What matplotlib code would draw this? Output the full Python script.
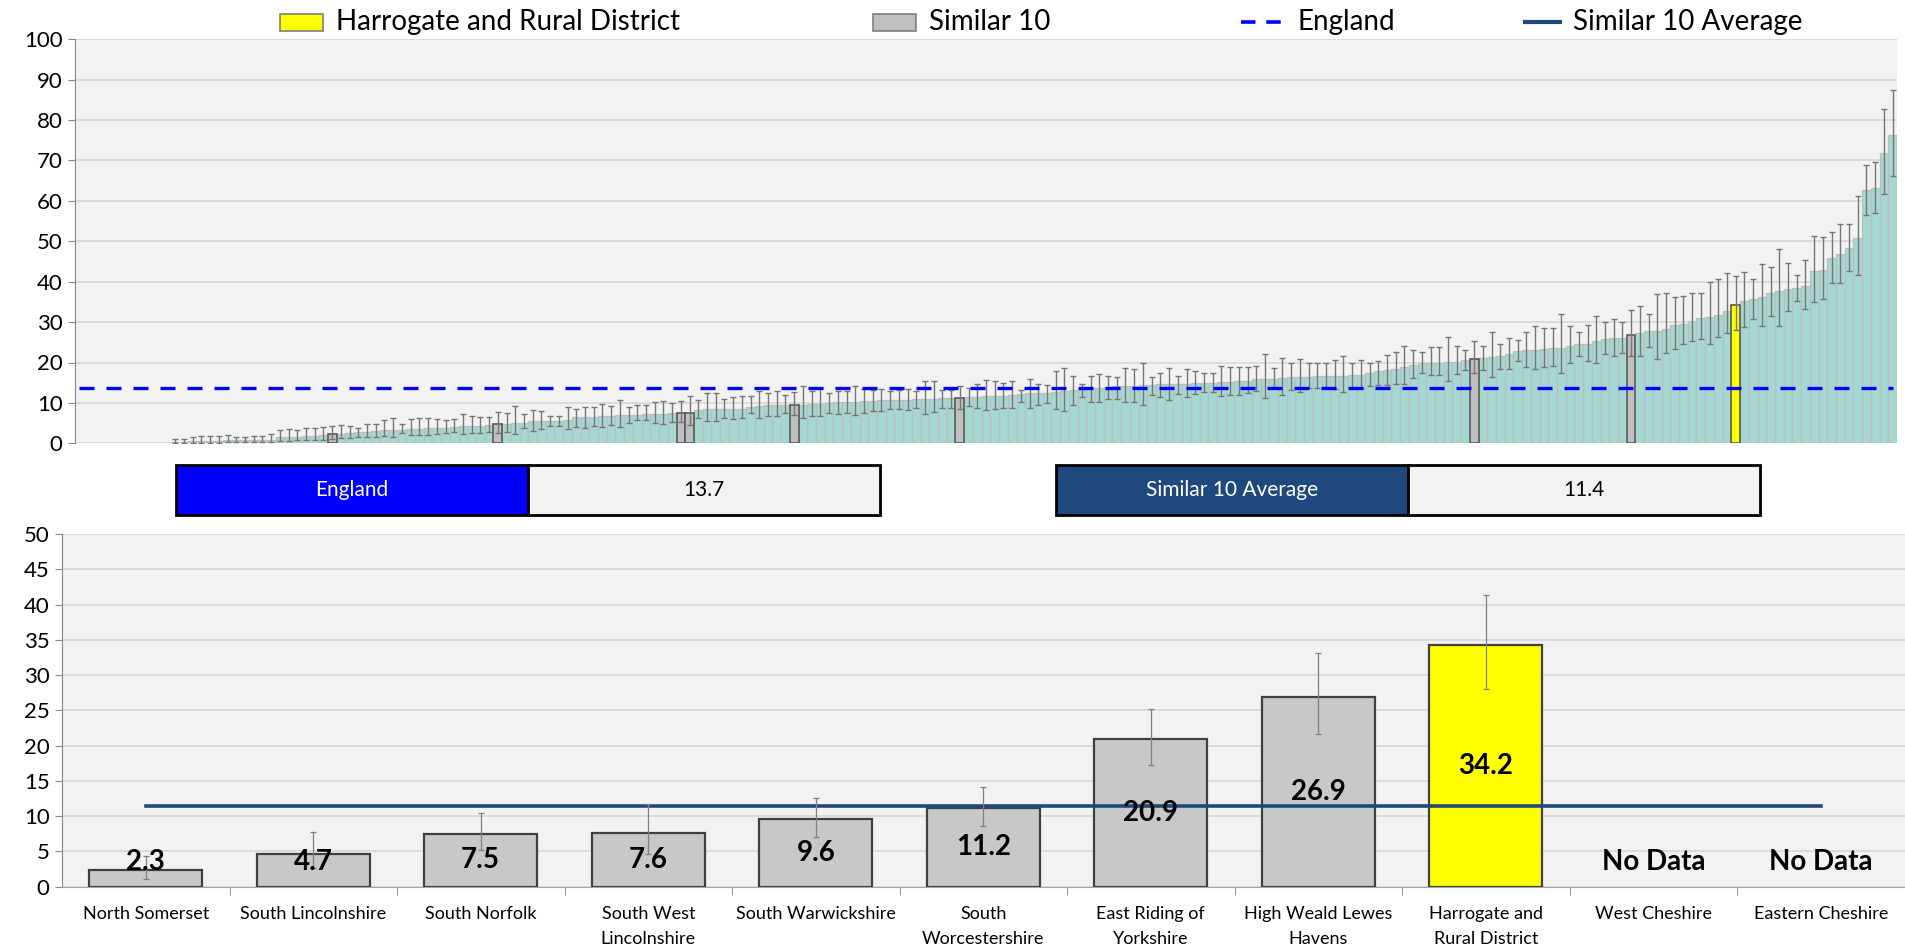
import numpy as np
import matplotlib
matplotlib.use("Agg")
import matplotlib.pyplot as plt
from matplotlib.patches import Rectangle
from matplotlib.lines import Line2D

plt.rcParams['font.family'] = ['Lato', 'DejaVu Sans']

# ranked districts (top chart); the first 11 districts have no data
no_data = 11
rank_values = [
    0.3, 0.4, 0.5, 0.5, 0.6, 0.6, 0.7, 0.7, 0.7, 0.8, 0.8, 0.9, 1.5, 1.5, 1.6, 1.7, 1.8, 2.0, 2.3, 2.4, 2.5, 2.7, 2.8, 3.0,
    3.2, 3.3, 3.4, 3.5, 3.6, 3.7, 3.8, 3.9, 4.1, 4.2, 4.4, 4.4, 4.5, 4.7, 4.8, 5.0, 5.1, 5.4, 5.4, 5.5, 5.5, 5.8, 6.4, 6.6,
    6.6, 6.7, 6.7, 7.0, 7.1,
    7.1, 7.2, 7.2, 7.3, 7.4, 7.5, 7.6, 8.2, 8.4, 8.5, 8.5, 8.6, 8.6, 8.9, 9.3, 9.4, 9.4, 9.5, 9.6, 9.6, 9.7, 9.8, 10.0,
    10.1, 10.2, 10.3, 10.4, 10.5, 10.7,
    10.7, 10.8, 10.8, 10.9, 11.0, 11.0, 11.1, 11.1, 11.2, 11.4, 11.5, 11.6, 11.7, 11.8, 11.9, 12.2, 12.4, 12.4, 12.5, 12.7,
    12.9, 13.2, 13.3, 13.7, 13.8, 13.9, 14.1, 14.2, 14.3, 14.4,
    14.5, 14.6, 14.6, 14.7, 14.8, 14.9, 15.0, 15.0, 15.1, 15.2, 15.3, 15.5, 15.9, 16.0, 16.0, 16.1, 16.3, 16.3, 16.5, 16.6,
    16.7, 16.7, 16.7, 16.8, 16.8, 17.3, 17.9, 18.2,
    18.5, 19.0, 19.4, 19.8, 20.0, 20.0, 20.2, 20.2, 20.6, 20.9, 21.0, 21.4, 21.6, 22.0, 22.9, 23.1, 23.1, 23.3, 23.5, 23.7,
    24.2, 24.5, 24.7, 25.2, 25.7, 26.0, 26.1, 26.9, 27.4, 27.8,
    27.9, 28.2, 29.3, 29.5, 30.3, 31.1, 31.3, 31.8, 32.8, 34.2, 35.2, 35.6, 36.1, 37.3, 37.8, 38.2, 38.4, 38.9, 42.6, 42.9,
    45.8, 46.8, 48.3, 50.7, 62.7, 63.3, 71.8, 76.3]
rank_lower = [
    0.0, 0.1, 0.1, 0.1, 0.1, 0.1, 0.2, 0.2, 0.2, 0.2, 0.2, 0.3, 0.6, 0.6, 0.7, 0.8, 0.8, 0.9, 1.1, 1.2, 1.2, 1.6, 1.5, 1.6,
    1.8, 1.5, 2.5, 2.1, 2.1, 2.1, 2.3, 2.5, 2.9, 2.2, 2.5, 2.6, 2.9, 2.6, 2.9, 2.3, 3.7, 3.1, 3.5, 4.3, 4.3, 3.5, 4.1, 3.9,
    4.3, 4.1, 4.5, 4.1, 5.1,
    5.8, 5.8, 5.1, 4.9, 5.3, 5.2, 4.6, 6.2, 5.4, 5.5, 6.2, 6.0, 6.2, 7.4, 6.3, 6.8, 6.8, 7.6, 7.1, 6.2, 6.8, 6.8, 7.6,
    7.3, 7.6, 7.0, 7.4, 8.1, 8.1,
    8.4, 8.4, 8.3, 8.7, 7.3, 7.7, 8.7, 8.7, 8.6, 9.2, 8.8, 8.2, 8.5, 8.8, 8.8, 10.1, 8.8, 9.6, 9.9, 8.4,
    8.0, 9.5, 11.5, 10.1, 10.3, 11.0, 11.0, 10.1, 10.3, 9.5,
    12.0, 11.5, 10.7, 12.2, 11.5, 12.1, 12.6, 12.8, 11.8, 12.0, 12.0, 12.5, 13.0, 11.1, 14.0, 12.0, 13.2, 12.6, 13.8, 13.6,
    13.6, 13.4, 12.6, 13.8, 13.6, 14.2, 14.4, 14.4,
    14.8, 14.8, 16.1, 17.3, 16.9, 16.9, 15.5, 17.1, 18.1, 17.3, 18.1, 16.5, 18.5, 18.5, 20.4, 19.0, 18.4, 18.8, 19.1, 17.5,
    20.0, 21.7, 20.4, 19.8, 22.0, 21.7, 22.3, 21.6, 21.7, 23.9,
    20.8, 22.4, 23.3, 24.6, 25.4, 25.7, 24.6, 26.2, 27.2, 28.0, 28.7, 30.7, 29.0, 31.5, 29.0, 32.7, 35.3, 33.2, 34.9, 35.7,
    39.8, 39.8, 42.7, 41.6, 56.5, 56.9, 61.7, 66.2]
rank_upper = [
    1.0, 1.1, 1.6, 1.8, 1.8, 1.8, 2.0, 1.6, 1.6, 1.8, 1.9, 2.2, 3.3, 3.5, 3.2, 3.9, 3.9, 4.1, 4.3, 4.5, 4.4, 3.7, 4.7, 4.9,
    5.8, 6.3, 4.7, 5.9, 6.2, 6.3, 5.9, 5.8, 5.9, 7.2, 6.8, 6.6, 6.6, 7.7, 7.4, 9.3, 7.2, 8.2, 8.0, 6.8, 6.8, 9.1, 8.5, 9.1,
    8.9, 9.7, 9.2, 10.7, 8.9,
    9.5, 9.5, 10.3, 10.5, 9.9, 10.4, 11.7, 10.7, 12.4, 12.5, 11.0, 11.5, 11.7, 11.7, 13.0, 12.5, 13.0, 11.9, 12.6, 14.3,
    13.0, 13.7, 12.5, 13.0, 12.9, 14.3, 13.4, 13.2, 13.4,
    13.0, 13.2, 13.4, 13.0, 15.4, 15.3, 13.2, 13.2, 14.2, 13.8, 14.7, 15.7, 15.5, 15.0, 15.5, 13.2, 15.9, 14.7, 14.4, 17.9,
    18.6, 16.7, 14.7, 16.7, 17.1, 16.7, 16.5, 18.6, 18.3, 20.0,
    16.3, 17.5, 18.6, 16.7, 18.3, 17.9, 17.3, 17.3, 19.1, 19.0, 19.0, 19.0, 19.2, 22.1, 18.6, 21.0, 19.8, 20.9, 19.8, 19.8,
    20.0, 20.6, 21.7, 20.0, 20.5, 19.8, 20.4, 21.8,
    22.5, 24.1, 23.1, 22.7, 23.9, 23.9, 26.2, 24.2, 23.1, 25.2, 24.1, 27.6, 24.7, 26.1, 25.6, 27.6, 29.0, 28.6, 28.6, 32.1,
    29.0, 27.6, 29.4, 31.5, 30.1, 30.7, 30.1, 33.1, 34.0, 31.9,
    36.9, 37.1, 36.3, 36.5, 37.3, 37.1, 40.0, 40.6, 42.2, 41.4, 42.5, 40.6, 44.3, 43.7, 48.0, 44.7, 41.7, 45.4, 51.3, 51.1,
    52.4, 54.4, 54.3, 61.2, 69.0, 69.7, 82.8, 87.5]
similar_ranks = [18, 37, 58, 59, 71, 90, 149, 167]
harrogate_rank = 179

# similar 10 comparison (bottom chart)
names = ['North Somerset', 'South Lincolnshire', 'South Norfolk', 'South West\nLincolnshire',
         'South Warwickshire', 'South\nWorcestershire', 'East Riding of\nYorkshire',
         'High Weald Lewes\nHavens', 'Harrogate and\nRural District', 'West Cheshire', 'Eastern Cheshire']
values = [2.3, 4.7, 7.5, 7.6, 9.6, 11.2, 20.9, 26.9, 34.2, np.nan, np.nan]
lower = [1.1, 2.6, 5.2, 4.6, 7.1, 8.6, 17.3, 21.6, 28.0, np.nan, np.nan]
upper = [4.3, 7.7, 10.4, 11.7, 12.6, 14.2, 25.2, 33.1, 41.4, np.nan, np.nan]
england = 13.7
similar_avg = 11.4

W, H = 1905, 949
fig = plt.figure(figsize=(W / 100, H / 100), dpi=100)


def box(x0, y0, x1, y1):
    return [x0 / W, 1 - y1 / H, (x1 - x0) / W, (y1 - y0) / H]


bg = '#F2F2F2'
grid = '#D9D9D9'
axis_c = '#868686'

# ---------- top chart ----------
ax1 = fig.add_axes(box(75, 39.3, 1897, 443.3))
rv = np.array(rank_values)
x_all = np.arange(no_data + len(rv)) - no_data
x = np.arange(len(rv))
ax1.set_facecolor(bg)
ax1.bar(x, rv, width=1.0, color='#A6D8D2', edgecolor='#BDBDBD', linewidth=0.9, zorder=2)
ax1.bar(np.array(similar_ranks), rv[similar_ranks], width=1.0, color='#BFBFBF',
        edgecolor='#5A5A5A', linewidth=1.2, zorder=3)
ax1.bar([harrogate_rank], [rv[harrogate_rank]], width=1.0, color='#FFFF00',
        edgecolor='#5A5A5A', linewidth=1.2, zorder=3)
ax1.errorbar(x, rv, yerr=[rv - np.array(rank_lower), np.array(rank_upper) - rv], fmt='none',
             ecolor='#767676', elinewidth=1.0, capsize=2.2, capthick=1.0, zorder=4)
ax1.plot([x_all[0], x_all[-1]], [england, england], color='#0000FF', lw=2.4,
         dashes=(4.5, 3.6), zorder=5)
ax1.set_xlim(x_all[0] - 0.5, x_all[-1] + 0.5)
ax1.set_ylim(0, 100)
ax1.set_yticks(np.arange(0, 101, 10))
ax1.yaxis.grid(True, color=grid, lw=1.3, zorder=0)
ax1.set_axisbelow(True)
ax1.set_xticks([])
for s in ['top', 'right', 'bottom']:
    ax1.spines[s].set_visible(False)
ax1.spines['left'].set_color(axis_c)
ax1.tick_params(axis='y', length=5, color=axis_c, labelsize=16, pad=4)

# ---------- bottom chart ----------
ax2 = fig.add_axes(box(62, 534, 1904.5, 886.7))
ax2.set_facecolor(bg)
v = np.array(values)
lo = np.array(lower)
hi = np.array(upper)
xb = np.arange(len(names))
has = ~np.isnan(v)
cols = ['#FFFF00' if n.replace('\n', ' ') == 'Harrogate and Rural District' else '#C8C8C8' for n in names]
ax2.bar(xb[has], v[has], width=0.675, color=[c for c, h in zip(cols, has) if h],
        edgecolor='#404040', linewidth=1.6, zorder=2)
ax2.errorbar(xb[has], v[has], yerr=[v[has] - lo[has], hi[has] - v[has]], fmt='none',
             ecolor='#808080', elinewidth=0.9, capsize=2.5, capthick=0.9, zorder=4)
ax2.plot([xb[0], xb[-1]], [similar_avg, similar_avg], color='#1F497D', lw=2.6, zorder=3)
for xi, val in zip(xb, v):
    if np.isnan(val):
        ax2.text(xi, 3.5, 'No Data', ha='center', va='center', fontsize=20, fontweight='bold', zorder=5)
    else:
        ax2.text(xi, max(val / 2, 3.5), f'{val:.1f}', ha='center', va='center', fontsize=20,
                 fontweight='bold', zorder=5)
ax2.set_xlim(-0.5, len(names) - 0.5)
ax2.set_ylim(0, 50)
ax2.set_yticks(np.arange(0, 51, 5))
ax2.yaxis.grid(True, color=grid, lw=1.3, zorder=0)
ax2.set_axisbelow(True)
ax2.set_xticks(xb)
ax2.set_xticklabels(names, fontsize=13, linespacing=1.7, va='top')
ax2.set_xticks(np.arange(len(names)) + 0.5, minor=True)
ax2.tick_params(axis='x', which='major', length=0, pad=14)
ax2.tick_params(axis='x', which='minor', length=6, color=axis_c)
ax2.tick_params(axis='y', length=5, color=axis_c, labelsize=16, pad=4)
for s in ['top', 'right']:
    ax2.spines[s].set_visible(False)
ax2.spines['left'].set_color(axis_c)
ax2.spines['bottom'].set_color('#A6A6A6')

# ---------- value boxes between charts ----------
def value_box(x0, x1, x2, label, value, color):
    fig.add_artist(Rectangle((x0 / W, 1 - 515 / H), (x1 - x0) / W, 50 / H, transform=fig.transFigure,
                             facecolor=color, edgecolor='black', lw=2))
    fig.add_artist(Rectangle((x1 / W, 1 - 515 / H), (x2 - x1) / W, 50 / H, transform=fig.transFigure,
                             facecolor=bg, edgecolor='black', lw=2))
    fig.text((x0 + x1) / 2 / W, 1 - 490 / H, label, color='white', fontsize=15, ha='center', va='center')
    fig.text((x1 + x2) / 2 / W, 1 - 490 / H, f'{value:.1f}', color='black', fontsize=15,
             ha='center', va='center')


value_box(176, 528, 880, 'England', england, '#0000FF')
value_box(1056, 1408, 1760, 'Similar 10 Average', similar_avg, '#1F497D')

# ---------- legend ----------
ly = 1 - 22 / H
fig.add_artist(Rectangle((280 / W, 1 - 31 / H), 43 / W, 17 / H, transform=fig.transFigure,
                         facecolor='#FFFF00', edgecolor='#7F7F7F', lw=1.2))
fig.text(336 / W, ly, 'Harrogate and Rural District', fontsize=20, va='center')
fig.add_artist(Rectangle((873 / W, 1 - 31 / H), 43 / W, 17 / H, transform=fig.transFigure,
                         facecolor='#BFBFBF', edgecolor='#7F7F7F', lw=1.2))
fig.text(929 / W, ly, 'Similar 10', fontsize=20, va='center')
fig.add_artist(Line2D([1241 / W, 1282 / W], [ly, ly], transform=fig.transFigure, color='#0000FF',
                      lw=2.6, dashes=(4.0, 3.0)))
fig.text(1298 / W, ly, 'England', fontsize=20, va='center')
fig.add_artist(Line2D([1525 / W, 1560 / W], [ly, ly], transform=fig.transFigure, color='#1F497D', lw=3))
fig.text(1573 / W, ly, 'Similar 10 Average', fontsize=20, va='center')

fig.savefig('out.png', dpi=100, facecolor='white')
